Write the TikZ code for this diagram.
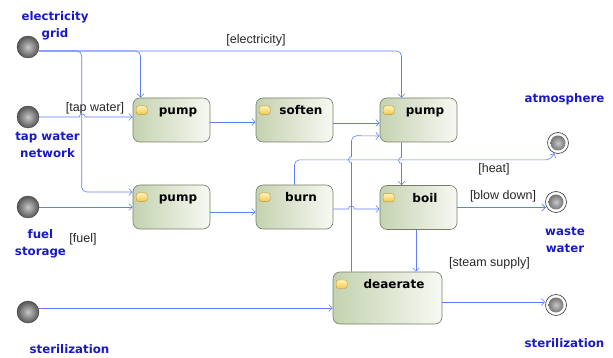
\documentclass[tikz,border=0pt]{standalone}
\usepackage{fontspec}
\setmainfont{DejaVu Sans}
\newfontfamily\guardfont{Liberation Sans}
\usetikzlibrary{arrows.meta,positioning}

\definecolor{flowblue}{RGB}{95,125,250}
\definecolor{placeblue}{RGB}{25,25,200}
\definecolor{boxline}{RGB}{115,127,100}
\definecolor{boxfill}{RGB}{196,210,176}
\definecolor{boxlight}{RGB}{247,249,243}
\definecolor{iconfill}{RGB}{240,200,80}
\definecolor{iconlight}{RGB}{255,243,185}
\definecolor{iconline}{RGB}{195,150,45}
\definecolor{balllight}{RGB}{200,200,200}
\definecolor{balldark}{RGB}{85,85,85}

\tikzset{
  action/.style={rectangle, rounded corners=7pt, draw=boxline, line width=0.6pt, left color=boxfill, right color=boxlight, minimum width=77pt, minimum height=44pt, inner sep=0pt},
  actiontext/.style={font=\bfseries\fontsize{12pt}{13pt}\selectfont, anchor=base, inner sep=0pt},
  actionicon/.style={rectangle, rounded corners=2.5pt, draw=iconline, top color=iconlight, bottom color=iconfill, minimum width=11pt, minimum height=8.5pt, inner sep=0pt},
  initial/.style={circle, inner color=balllight, outer color=balldark, draw=black!75, minimum size=22pt, inner sep=0pt},
  final/.style={circle, draw=black!70, line width=0.7pt, minimum size=21pt, inner sep=0pt,
    path picture={\shade[inner color=balllight, outer color=balldark] (path picture bounding box.center) circle (7.5pt);}},
  place/.style={font=\bfseries\fontsize{11.8pt}{16.5pt}\selectfont, text=placeblue, align=center, inner sep=0pt},
  guard/.style={font=\guardfont\fontsize{12.5pt}{14pt}\selectfont, text=black!85, inner sep=0pt},
  flow/.style={draw=flowblue, line width=0.6pt, ->},
}

\begin{document}
\begin{tikzpicture}[x=1pt, y=1pt, >={Straight Barb[length=3.5pt,width=7pt]}]
    \useasboundingbox (0,0) rectangle (613,-358);
    %Start and end points
        \node[initial] (grid) at (28,-47) {};
        \node[initial] (tap) at (28,-117) {};
        \node[initial] (fuel) at (28,-207) {};
        \node[initial] (sterin) at (28,-312) {};
        \node[final] (atm) at (558,-143) {};
        \node[final] (waste) at (556,-202) {};
        \node[final] (sterout) at (556,-305) {};
        %
        \node[place] (gridname) at (55,-26) {electricity\\grid};
        \node[place] (tapname) at (47.5,-145) {tap water\\network};
        \node[place] (fuelname) at (40.5,-244) {fuel\\storage};
        \node[place] (sterinname) at (69.5,-349) {sterilization};
        \node[place] (atmname) at (564.5,-99) {atmosphere};
        \node[place] (wastename) at (565,-240) {waste\\water};
        \node[place] (steroutname) at (564.5,-343) {sterilization};
    %Actions
        \node[action] (p1) at (171.5,-120) {};
        \node[action] (sf) at (294.5,-120) {};
        \node[action] (p3) at (418.5,-120) {};
        \node[action] (p2) at (171.5,-207) {};
        \node[action] (bu) at (294.5,-207) {};
        \node[action] (b) at (418.5,-207.5) {};
        \node[action, minimum width=109pt, minimum height=52pt] (d) at (387.5,-298) {};
        %
        \node[actionicon] (p1i) at ([xshift=9pt,yshift=-12.5pt]p1.north west) {};
        \node[actionicon] (sfi) at ([xshift=9pt,yshift=-12.5pt]sf.north west) {};
        \node[actionicon] (p3i) at ([xshift=9pt,yshift=-12.5pt]p3.north west) {};
        \node[actionicon] (p2i) at ([xshift=9pt,yshift=-12.5pt]p2.north west) {};
        \node[actionicon] (bui) at ([xshift=9pt,yshift=-12.5pt]bu.north west) {};
        \node[actionicon] (bi) at ([xshift=9pt,yshift=-12.5pt]b.north west) {};
        \node[actionicon] (di) at ([xshift=9pt,yshift=-12.5pt]d.north west) {};
        %
        \node[actiontext] (p1t) at ([xshift=6.5pt,yshift=-17pt]p1.north) {pump};
        \node[actiontext] (sft) at ([xshift=6.5pt,yshift=-17pt]sf.north) {soften};
        \node[actiontext] (p3t) at ([xshift=6.5pt,yshift=-17pt]p3.north) {pump};
        \node[actiontext] (p2t) at ([xshift=6.5pt,yshift=-17pt]p2.north) {pump};
        \node[actiontext] (but) at ([xshift=6.5pt,yshift=-17pt]bu.north) {burn};
        \node[actiontext] (bt) at ([xshift=6.5pt,yshift=-17pt]b.north) {boil};
        \node[actiontext] (dt) at ([xshift=6.5pt,yshift=-17pt]d.north) {deaerate};
    %Flows
        \draw[flow, rounded corners=5pt] ([yshift=-4pt]grid.east) -| ([xshift=-17pt]p3.north);
        \draw[flow, rounded corners=5pt] ([yshift=-4pt]grid.east) -| ([xshift=-31pt]p1.north);
        \draw[flow, rounded corners=5pt] ([yshift=-4pt]grid.east) -| ([xshift=-51pt,yshift=15pt]p2.west) -- ([yshift=15pt]p2.west);
        \draw[flow] (tap.east) -- ++(40pt,0) arc[start angle=180, end angle=0, radius=3pt] -- (tap.east -| p1.west);
        \draw[flow] (fuel.east) -- (fuel.east -| p2.west);
        \draw[flow] ([yshift=4pt]sterin.east) -- ([yshift=4pt]sterin.east -| d.west);
        %
        \draw[flow] ([yshift=-2pt]p1.east) -- ([yshift=-2pt]sf.west);
        \draw[flow] ([yshift=-3pt]sf.east) -- ([yshift=-3pt]p3.west);
        \draw[flow] ([yshift=-5pt]p2.east) -- ([yshift=-5pt]bu.west);
        \draw[flow] ([yshift=-2pt]bu.east) -- ++(15pt,0) arc[start angle=180, end angle=0, radius=3pt] -- ([yshift=-2pt]bu.east -| b.west);
        \draw[flow] ([xshift=-17pt]p3.south) -- ++(0,-15pt) arc[start angle=90, end angle=270, radius=3pt] -- ([xshift=-17pt]b.north);
        \draw[flow] (bu.north) [rounded corners=5pt] |- ([shift={(-7pt,-6pt)}]atm.south) [sharp corners] -- (atm.250);
        \draw[flow] ([xshift=-36pt]d.north) -- ([xshift=-36pt,yshift=109pt]d.north) arc[start angle=270, end angle=90, radius=3pt] [rounded corners=5pt] -- ++(0,21pt) -- ([yshift=-16pt]p3.west);
        \draw[flow] ([xshift=-2.5pt]b.south) -- ([xshift=-2.5pt]b.south |- d.north);
        \draw[flow] (b.east) -- (b.east -| waste.200);
        \draw[flow] ([yshift=-4pt]d.east) -- ([yshift=-4pt]d.east -| sterout.west);
    %Guards
        \node[guard] (elecg) at (256,-40) {[electricity]};
        \node[guard] (tapg) at (95,-108) {[tap water]};
        \node[guard] (fuelg) at (83,-239) {[fuel]};
        \node[guard] (heatg) at (494,-169) {[heat]};
        \node[guard] (blowg) at (503,-196) {[blow down]};
        \node[guard] (steamg) at (489.5,-263) {[steam supply]};
\end{tikzpicture}
\end{document}
